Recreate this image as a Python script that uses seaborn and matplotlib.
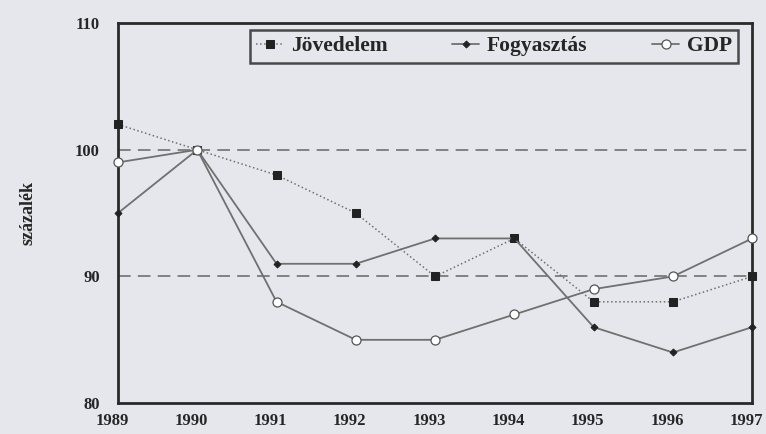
import numpy as np
import pandas as pd
import matplotlib
matplotlib.use("Agg")
import matplotlib.pyplot as plt
import matplotlib.transforms as mtransforms
import seaborn as sns

years = [1989, 1990, 1991, 1992, 1993, 1994, 1995, 1996, 1997]
jovedelem = [102, 100, 98, 95, 90, 93, 88, 88, 90]
fogyasztas = [95, 100, 91, 91, 93, 93, 86, 84, 86]
gdp = [99, 100, 88, 85, 85, 87, 89, 90, 93]
series_names = ["Jövedelem", "Fogyasztás", "GDP"]

df = pd.DataFrame({
    "ev": years * 3,
    "ertek": jovedelem + fogyasztas + gdp,
    "sor": [series_names[0]] * 9 + [series_names[1]] * 9 + [series_names[2]] * 9,
})

sns.set_style("white")
plt.rcParams["font.family"] = ["Liberation Serif", "DejaVu Serif"]
plt.rcParams["font.weight"] = "bold"

bg = "#e5e7ec"
line_col = "#707070"

fig = plt.figure(figsize=(7.66, 4.34), dpi=100, facecolor=bg)
ax = fig.add_axes([0.154, 0.071, 0.828, 0.876], facecolor=bg)

styles = {
    "Jövedelem": dict(linestyle=":", marker="s", markersize=6, markerfacecolor="#222222",
                      markeredgecolor="#222222", linewidth=1.1),
    "Fogyasztás": dict(linestyle="-", marker="D", markersize=3.5, markerfacecolor="#222222",
                       markeredgecolor="#222222", linewidth=1.3),
    "GDP": dict(linestyle="-", marker="o", markersize=6.5, markerfacecolor="white",
                markeredgecolor="#555555", markeredgewidth=0.9, linewidth=1.3),
}

for name in series_names:
    sns.lineplot(data=df[df["sor"] == name], x="ev", y="ertek", ax=ax,
                 color=line_col, label=name, clip_on=False, zorder=3, **styles[name])

for lvl in [100, 90]:
    ax.axhline(lvl, color="#7a7a7a", linestyle=(0, (7, 4)), linewidth=1.3, zorder=1)

ax.set_xlim(1989, 1997)
ax.set_ylim(80, 110)
ax.set_xticks(years)
ax.set_yticks([80, 90, 100, 110])
ax.tick_params(axis="x", length=0, labelsize=12, pad=7)
ax.tick_params(axis="y", length=0, labelsize=12, pad=13)
# year labels sit a little left of their points in the original
shift = mtransforms.ScaledTranslation(-6 / 100, 0, fig.dpi_scale_trans)
for lab in ax.get_xticklabels():
    lab.set_fontweight("bold")
    lab.set_transform(lab.get_transform() + shift)
for lab in ax.get_yticklabels():
    lab.set_fontweight("bold")
ax.set_xlabel("")
ax.set_ylabel("százalék", fontsize=13, fontweight="bold")
ax.yaxis.set_label_coords(-0.128, 0.5)

for sp in ax.spines.values():
    sp.set_visible(True)
    sp.set_color("#2a2a2a")
    sp.set_linewidth(2)

leg = ax.legend(loc="upper left", bbox_to_anchor=(0.208, 0.982, 0.77, 0.0), mode="expand",
                ncol=3, frameon=True, fancybox=False, edgecolor="#222222", borderaxespad=0,
                prop={"family": "Liberation Serif", "weight": "bold", "size": 15.5},
                handlelength=1.25, handletextpad=0.35, borderpad=0.3)
leg.get_frame().set_linewidth(1.8)
leg.get_frame().set_facecolor(bg)

fig.savefig("out.png", dpi=100, facecolor=bg)
